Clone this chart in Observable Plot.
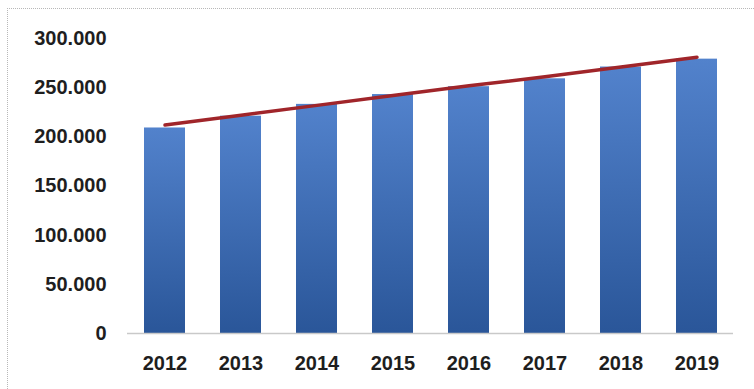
<!DOCTYPE html>
<html><head><meta charset="utf-8">
<script src="https://cdn.jsdelivr.net/npm/d3@7"></script>
<script src="https://cdn.jsdelivr.net/npm/@observablehq/plot@0.6"></script>
<style>
html,body{margin:0;padding:0;background:#fff;}
#wrap{position:relative;width:754px;height:389px;overflow:hidden;}
#border{position:absolute;left:7px;top:8px;width:760px;height:400px;border-left:1px dotted #b8b8b8;border-top:1px dotted #b8b8b8;pointer-events:none;}
</style></head>
<body><div id="wrap"><div id="border"></div></div>
<script>
const years = ["2012","2013","2014","2015","2016","2017","2018","2019"];
const values = [209, 221, 233, 243, 251, 259, 271, 279];
const trend = [212, 222, 232, 242, 252, 261, 271, 281];
const yTicks = [0, 50000, 100000, 150000, 200000, 250000, 300000];

const data = years.map((y, i) => ({year: y, value: values[i] * 1000, trend: trend[i] * 1000}));
const fmt = d => d === 0 ? "0" : d3.format(",")(d).replace(/,/g, ".");

const chart = Plot.plot({
  width: 754, height: 389,
  marginLeft: 127, marginRight: 21, marginTop: 38, marginBottom: 56,
  style: {fontFamily: "'Liberation Sans', sans-serif", fontSize: "20px", fontWeight: "bold", color: "#1e1e1e", background: "transparent"},
  x: {domain: years, range: [144, 717.5], paddingInner: 0.46, paddingOuter: 0, label: null, tickSize: 0, tickPadding: 22},
  y: {domain: [0, 300000], ticks: yTicks, tickFormat: fmt, label: null, tickSize: 0, tickPadding: 21},
  marks: [
    Plot.barY(data, {x: "year", y: "value", fill: "url(#barGrad)"}),
    Plot.ruleY([0], {stroke: "#c9c9c9", strokeWidth: 1.5}),
    Plot.line(data, {x: "year", y: "trend", stroke: "#a0252a", strokeWidth: 3.5})
  ]
});
const ns = "http://www.w3.org/2000/svg";
const defs = document.createElementNS(ns, "defs");
defs.innerHTML = '<linearGradient id="barGrad" x1="0" y1="0" x2="0" y2="1"><stop offset="0" stop-color="#5282cc"/><stop offset="1" stop-color="#2a5699"/></linearGradient>';
chart.insertBefore(defs, chart.firstChild);
chart.style.position = "absolute"; chart.style.left = "0"; chart.style.top = "0";
document.getElementById("wrap").appendChild(chart);
</script></body></html>
